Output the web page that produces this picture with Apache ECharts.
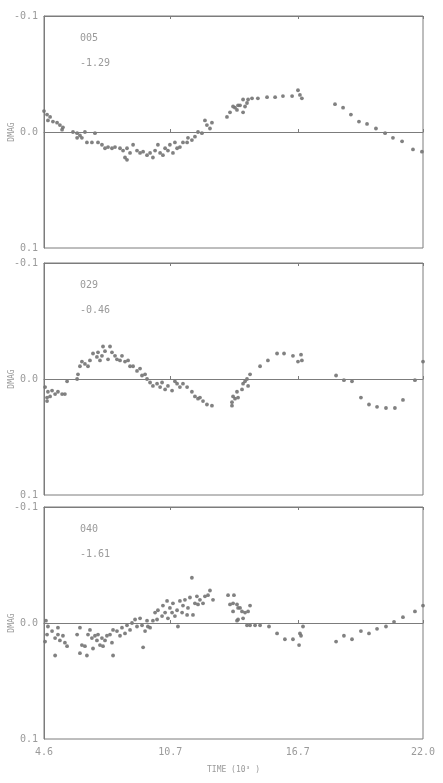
<html>
<head>
<meta charset="utf-8">
<title>DMAG light curves</title>
<script src="https://cdn.jsdelivr.net/npm/echarts@6/dist/echarts.min.js"></script>
<style>
  body { margin: 0; background-color: white }
</style>
</head>
<body>
<div id="main" style="width: 443px; height: 783px;"></div>
<script type="text/javascript">

// panel labels
var panelIds = ['005', '029', '040'];
var panelMags = ['-1.29', '-0.46', '-1.61'];

// x ticks (equal spaced on the plot, labels as printed)
var tickPos = [4.6, 10.4, 16.25, 22.0];
var tickLabels = ['4.6', '10.7', '16.7', '22.0'];

// panel 005
var time1 = [4.60, 4.74, 4.88, 4.78, 5.01, 5.20, 5.33, 5.47, 5.43, 5.93, 6.12, 6.25, 6.48, 6.94, 6.12, 6.34,
  6.57, 6.80, 7.08, 7.26, 7.40, 7.54, 7.72, 7.86, 8.09, 8.23, 8.41, 8.55, 8.32, 8.41, 8.69, 8.87,
  9.01, 9.15, 9.33, 9.47, 9.60, 9.70, 9.83, 9.93, 10.06, 10.16, 10.29, 10.38, 10.52, 10.61, 10.71, 10.84,
  10.98, 11.17, 11.21, 11.39, 11.53, 11.67, 11.85, 11.99, 12.08, 12.31, 12.22, 13.00, 13.14, 13.37, 13.51,
  13.28, 13.46, 13.60, 13.74, 13.83, 13.92, 13.97, 14.15, 13.74, 14.42, 14.84, 15.21, 15.57, 15.99, 16.26,
  16.35, 16.44, 17.96, 18.33, 18.69, 19.06, 19.43, 19.84, 20.26, 20.62, 21.04, 21.54, 21.95];
var dmag1 = [-0.018, -0.015, -0.013, -0.010, -0.009, -0.008, -0.006, -0.004, -0.002, 0.000, 0.001, 0.003, 0.000, 0.001, 0.005, 0.005,
  0.009, 0.009, 0.009, 0.011, 0.014, 0.013, 0.014, 0.013, 0.014, 0.016, 0.014, 0.018, 0.022, 0.024, 0.011, 0.016,
  0.018, 0.017, 0.020, 0.018, 0.022, 0.016, 0.011, 0.018, 0.020, 0.014, 0.016, 0.011, 0.018, 0.009, 0.014, 0.013,
  0.009, 0.009, 0.005, 0.007, 0.004, 0.000, 0.001, -0.010, -0.006, -0.008, -0.003, -0.013, -0.017, -0.021, -0.023,
  -0.022, -0.019, -0.023, -0.017, -0.022, -0.025, -0.028, -0.029, -0.028, -0.029, -0.030, -0.030, -0.031, -0.031, -0.036,
  -0.032, -0.029, -0.024, -0.021, -0.015, -0.009, -0.007, -0.003, 0.001, 0.005, 0.008, 0.015, 0.017];

// panel 029
var time2 = [4.65, 4.74, 4.78, 4.97, 5.11, 5.24, 5.43, 5.56, 4.74, 4.88, 5.66, 6.12, 6.16, 6.25, 6.34, 6.48,
  6.62, 6.71, 6.85, 7.03, 7.08, 7.17, 7.26, 7.31, 7.40, 7.54, 7.63, 7.72, 7.86, 7.95, 8.09, 8.18,
  8.32, 8.46, 8.55, 8.69, 8.87, 9.01, 9.10, 9.24, 9.33, 9.47, 9.60, 9.79, 9.93, 10.02, 10.16, 10.29,
  10.48, 10.61, 10.71, 10.84, 10.98, 11.17, 11.39, 11.53, 11.67, 11.90, 12.08, 12.31, 11.76, 13.23, 13.28,
  13.46, 13.23, 13.37, 13.51, 13.69, 13.74, 13.83, 13.92, 13.97, 14.06, 14.52, 14.88, 15.30, 15.62, 16.03,
  16.26, 16.40, 16.44, 18.01, 18.37, 18.74, 19.15, 19.52, 19.89, 20.30, 20.71, 21.08, 21.63, 22.00];
var dmag2 = [0.007, 0.016, 0.011, 0.010, 0.013, 0.011, 0.013, 0.013, 0.019, 0.015, 0.002, 0.000, -0.004, -0.011, -0.015, -0.013,
  -0.011, -0.016, -0.022, -0.019, -0.023, -0.016, -0.020, -0.028, -0.024, -0.017, -0.028, -0.023, -0.020, -0.017, -0.016, -0.020,
  -0.015, -0.016, -0.011, -0.011, -0.007, -0.009, -0.003, -0.004, 0.000, 0.003, 0.006, 0.004, 0.007, 0.003, 0.009, 0.006,
  0.010, 0.002, 0.004, 0.007, 0.004, 0.007, 0.011, 0.015, 0.017, 0.019, 0.022, 0.023, 0.016, 0.020, 0.015,
  0.011, 0.023, 0.017, 0.016, 0.009, 0.004, 0.002, 0.000, 0.006, -0.004, -0.011, -0.016, -0.022, -0.022, -0.020,
  -0.015, -0.021, -0.016, -0.003, 0.001, 0.002, 0.016, 0.022, 0.024, 0.025, 0.025, 0.018, 0.001, -0.015];

// panel 040
var time3 = [4.69, 4.78, 4.74, 4.65, 4.97, 5.11, 5.24, 5.33, 5.47, 5.56, 5.66, 5.11, 5.24, 6.12, 6.25, 6.34,
  6.48, 6.25, 6.57, 6.62, 6.71, 6.80, 6.94, 7.03, 7.08, 6.85, 7.17, 7.26, 7.31, 7.40, 7.49, 7.63,
  7.72, 7.77, 7.77, 7.95, 8.09, 8.18, 8.32, 8.41, 8.55, 8.64, 8.78, 8.87, 9.01, 9.10, 9.15, 9.24,
  9.33, 9.37, 9.47, 9.60, 9.70, 9.79, 9.83, 10.02, 10.06, 10.16, 10.25, 10.29, 10.38, 10.48, 10.52,
  10.61, 10.71, 10.75, 10.84, 10.94, 10.98, 11.07, 11.17, 11.21, 11.30, 11.39, 11.44, 11.53, 11.62, 11.67,
  11.76, 11.90, 11.99, 12.13, 12.22, 12.36, 13.05, 13.14, 13.28, 13.46, 13.51, 13.32, 13.28, 13.46, 13.60,
  13.69, 13.74, 13.83, 13.97, 14.06, 13.51, 13.92, 14.06, 14.29, 14.52, 14.93, 15.30, 15.66, 16.03, 16.35,
  16.40, 16.31, 16.49, 18.01, 18.37, 18.74, 19.15, 19.52, 19.89, 20.30, 20.67, 21.08, 21.63, 22.00];
var dmag3 = [-0.002, 0.003, 0.010, 0.016, 0.007, 0.013, 0.010, 0.015, 0.011, 0.017, 0.020, 0.028, 0.004, 0.010, 0.004, 0.019,
  0.020, 0.026, 0.028, 0.010, 0.006, 0.013, 0.011, 0.015, 0.010, 0.022, 0.019, 0.013, 0.020, 0.015, 0.011, 0.010,
  0.017, 0.006, 0.028, 0.007, 0.011, 0.004, 0.009, 0.002, 0.006, 0.000, -0.003, 0.003, -0.004, 0.002, 0.021, 0.007,
  -0.002, 0.003, 0.004, -0.002, -0.009, -0.003, -0.011, -0.006, -0.015, -0.009, -0.019, -0.004, -0.013, -0.009, -0.017,
  -0.006, -0.011, 0.003, -0.019, -0.009, -0.015, -0.020, -0.007, -0.013, -0.022, -0.039, -0.007, -0.017, -0.023, -0.016,
  -0.020, -0.017, -0.023, -0.024, -0.028, -0.020, -0.024, -0.016, -0.017, -0.002, -0.013, -0.024, -0.010, -0.016, -0.013,
  -0.010, -0.004, -0.009, -0.010, -0.015, -0.003, 0.002, 0.002, 0.002, 0.002, 0.003, 0.009, 0.014, 0.014, 0.009,
  0.011, 0.019, 0.003, 0.016, 0.011, 0.014, 0.007, 0.009, 0.005, 0.003, -0.001, -0.005, -0.010, -0.015];

var times = [time1, time2, time3];
var dmags = [dmag1, dmag2, dmag3];

var GREY = '#7c7c7c';
var TEXT = '#9a9a9a';
var FONT = 'DejaVu Sans Mono';

var gridTops = [16, 263, 507];
var gridHeight = 232;

function tickText(v) {
  var best = 0;
  for (var i = 1; i < tickPos.length; i++) {
    if (Math.abs(tickPos[i] - v) < Math.abs(tickPos[best] - v)) best = i;
  }
  return tickLabels[best];
}

var grids = [], xAxes = [], yAxes = [], series = [], graphics = [];

for (let p = 0; p < 3; p++) {
  let last = (p == 2);
  grids.push({ left: 44, right: 20, top: gridTops[p], height: gridHeight,
    outerBoundsMode: 'none', containLabel: false,
    show: true, borderColor: GREY, borderWidth: 1, backgroundColor: 'transparent' });

  // bottom axis
  xAxes.push({
    type: 'value', gridIndex: p, min: 4.6, max: 22.0, position: 'bottom',
    axisLine: { lineStyle: { color: GREY } },
    axisTick: { show: true, inside: true, length: 3, customValues: tickPos, lineStyle: { color: GREY } },
    axisLabel: { show: last, customValues: tickPos, formatter: tickText, color: TEXT,
      fontFamily: FONT, fontSize: 10, margin: 8 },
    splitLine: { show: false },
    name: last ? 'TIME (10\u00b3 )' : '', nameLocation: 'middle', nameGap: 27, nameMoveOverlap: false,
    nameTextStyle: { color: TEXT, fontFamily: FONT, fontSize: 8 }
  });
  // top axis, ticks only
  xAxes.push({
    type: 'value', gridIndex: p, min: 4.6, max: 22.0, position: 'top',
    axisLine: { lineStyle: { color: GREY } },
    axisTick: { show: true, inside: true, length: 3, customValues: tickPos, lineStyle: { color: GREY } },
    axisLabel: { show: false },
    splitLine: { show: false }
  });

  yAxes.push({
    type: 'value', gridIndex: p, min: -0.1, max: 0.1, interval: 0.1, inverse: true,
    axisLine: { show: true, lineStyle: { color: GREY } },
    axisTick: { show: false },
    axisLabel: { color: TEXT, fontFamily: FONT, fontSize: 10, margin: 6,
      formatter: function (v) { return v.toFixed(1); } },
    splitLine: { show: false },
    name: 'DMAG', nameLocation: 'middle', nameGap: 28, nameRotate: 90, nameMoveOverlap: false,
    nameTextStyle: { color: TEXT, fontFamily: FONT, fontSize: 8 }
  });

  let pts = [];
  for (let i = 0; i < times[p].length; i++) pts.push([times[p][i], dmags[p][i]]);

  series.push({
    type: 'scatter', xAxisIndex: p * 2, yAxisIndex: p,
    data: pts, symbol: 'circle', symbolSize: 3.8,
    itemStyle: { color: '#737373', opacity: 0.9 },
    silent: true,
    markLine: {
      silent: true, symbol: 'none', label: { show: false },
      lineStyle: { color: GREY, width: 1, type: 'solid' },
      data: [{ yAxis: 0 }]
    }
  });

  graphics.push({ type: 'text', left: 80, top: gridTops[p] + 17,
    style: { text: panelIds[p], fill: TEXT, font: '10px "DejaVu Sans Mono"' } });
  graphics.push({ type: 'text', left: 80, top: gridTops[p] + 42,
    style: { text: panelMags[p], fill: TEXT, font: '10px "DejaVu Sans Mono"' } });
}

var myChart = echarts.init(document.getElementById('main'), null, { renderer: 'canvas' });
myChart.setOption({
  animation: false,
  grid: grids,
  xAxis: xAxes,
  yAxis: yAxes,
  series: series,
  graphic: graphics
});
</script>
</body>
</html>
